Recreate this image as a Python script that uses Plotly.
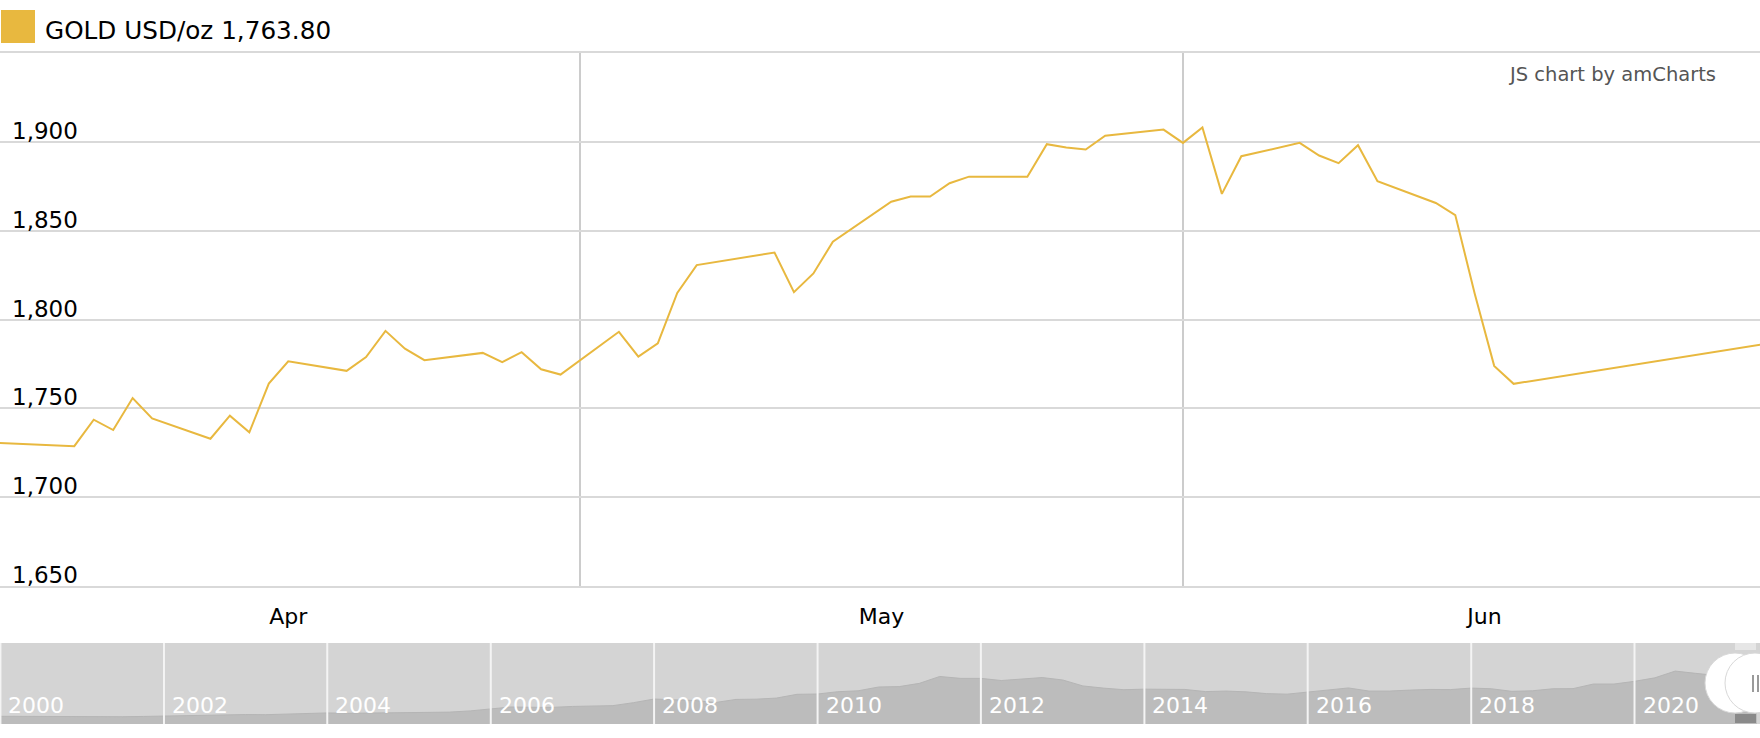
import plotly.graph_objects as go
import pandas as pd

# ---------------- main series (daily gold price, USD/oz) ----------------
dates = [
    "2021-04-01", "2021-04-05", "2021-04-06", "2021-04-07", "2021-04-08", "2021-04-09",
    "2021-04-12", "2021-04-13", "2021-04-14", "2021-04-15", "2021-04-16",
    "2021-04-19", "2021-04-20", "2021-04-21", "2021-04-22", "2021-04-23",
    "2021-04-26", "2021-04-27", "2021-04-28", "2021-04-29", "2021-04-30",
    "2021-05-03", "2021-05-04", "2021-05-05", "2021-05-06", "2021-05-07",
    "2021-05-11", "2021-05-12", "2021-05-13", "2021-05-14",
    "2021-05-17", "2021-05-18", "2021-05-19", "2021-05-20", "2021-05-21",
    "2021-05-24", "2021-05-25", "2021-05-26", "2021-05-27", "2021-05-28",
    "2021-05-31", "2021-06-01", "2021-06-02", "2021-06-03", "2021-06-04",
    "2021-06-07", "2021-06-08", "2021-06-09", "2021-06-10", "2021-06-11",
    "2021-06-14", "2021-06-15", "2021-06-16", "2021-06-17", "2021-06-18",
    "2021-07-01",
]
prices = [
    1730.6, 1728.7, 1743.6, 1737.8, 1755.8, 1744.3,
    1732.9, 1745.9, 1736.5, 1763.9, 1776.5,
    1771.1, 1778.9, 1793.6, 1783.6, 1777.1,
    1781.2, 1776.0, 1781.6, 1772.0, 1769.0,
    1793.1, 1779.1, 1786.6, 1815.0, 1830.6,
    1837.7, 1815.4, 1825.9, 1843.8,
    1866.3, 1869.2, 1869.2, 1876.7, 1880.4,
    1880.3, 1898.7, 1896.8, 1895.7, 1903.4,
    1906.9, 1899.4, 1908.1, 1870.7, 1891.9,
    1899.4, 1892.3, 1888.0, 1898.1, 1877.8,
    1865.6, 1858.8, 1814.5, 1773.9, 1763.8,
    1786.4,
]
y_ticks = [1650, 1700, 1750, 1800, 1850, 1900]
view_start, view_end = "2021-04-01 04:20", "2021-06-30 16:00"
last_in_view = 1763.80

# ---------------- navigator (long-term history, quarterly estimates) ----------------
nav_prices = [
    285, 280, 275, 270, 265, 265, 270, 280, 295, 315, 315, 320,
    350, 345, 365, 390, 410, 395, 405, 435, 425, 430, 440, 485,
    555, 630, 620, 615, 650, 670, 680, 790, 925, 895, 870, 795,
    910, 920, 960, 1100, 1110, 1195, 1230, 1370, 1385, 1505, 1760, 1690,
    1690, 1610, 1655, 1720, 1630, 1410, 1330, 1270, 1290, 1290, 1280, 1200,
    1220, 1190, 1125, 1105, 1180, 1260, 1335, 1220, 1220, 1255, 1280, 1275,
    1330, 1305, 1210, 1230, 1305, 1310, 1480, 1480, 1580, 1710, 1960, 1875,
    1795, 1815, 1800,
]
nav_dates = pd.date_range("2000-01-01", periods=len(nav_prices), freq="3MS")
nav_years = ["2000", "2002", "2004", "2006", "2008", "2010", "2012", "2014", "2016", "2018", "2020"]

W, H = 1760, 738
FONT = "DejaVu Sans"
GOLD = "#E8B83F"

def px_x(p):
    return p / W

def px_y(p):
    return 1 - p / H

main_top, main_bot = px_y(53), px_y(586)
nav_top, nav_bot = px_y(643), px_y(724)

fig = go.Figure()
fig.add_trace(go.Scatter(x=dates, y=prices, mode="lines",
                         line=dict(color=GOLD, width=2), xaxis="x", yaxis="y",
                         hoverinfo="skip", showlegend=False))
fig.add_trace(go.Scatter(x=nav_dates, y=nav_prices, mode="lines", fill="tozeroy",
                         fillcolor="#bcbcbc", line=dict(color="#b5b5b5", width=1),
                         xaxis="x2", yaxis="y2", hoverinfo="skip", showlegend=False))

shapes = [
    dict(type="rect", xref="x2 domain", yref="y2 domain", x0=0, x1=1, y0=0, y1=1,
         fillcolor="#d4d4d4", line=dict(width=0), layer="below"),
]
for yr in nav_years:
    shapes.append(dict(type="line", xref="x2", yref="y2 domain", x0=f"{yr}-01-01", x1=f"{yr}-01-01",
                       y0=0, y1=1, line=dict(color="#f4f4f4", width=2), layer="above"))
# legend swatch
shapes.append(dict(type="rect", xref="paper", yref="paper", x0=px_x(1), x1=px_x(35),
                   y0=px_y(43), y1=px_y(10), fillcolor=GOLD, line=dict(width=0)))
# scrollbar handle pieces
shapes += [
    dict(type="rect", xref="paper", yref="paper", x0=px_x(1735), x1=px_x(1756),
         y0=px_y(650), y1=px_y(643), fillcolor="#e6e6e6", line=dict(width=0)),
    dict(type="rect", xref="paper", yref="paper", x0=px_x(1735), x1=px_x(1756),
         y0=px_y(723), y1=px_y(714), fillcolor="#8a8a8a", line=dict(width=0)),
    dict(type="circle", xref="paper", yref="paper", x0=px_x(1705), x1=px_x(1765),
         y0=px_y(713), y1=px_y(653), fillcolor="#ffffff", line=dict(color="#d8d8d8", width=1)),
    dict(type="circle", xref="paper", yref="paper", x0=px_x(1725), x1=px_x(1785),
         y0=px_y(713), y1=px_y(653), fillcolor="#ffffff", line=dict(color="#d8d8d8", width=1)),
    dict(type="line", xref="paper", yref="paper", x0=px_x(1753), x1=px_x(1753),
         y0=px_y(692), y1=px_y(675), line=dict(color="#9a9a9a", width=2)),
    dict(type="line", xref="paper", yref="paper", x0=px_x(1758), x1=px_x(1758),
         y0=px_y(692), y1=px_y(675), line=dict(color="#9a9a9a", width=2)),
]

annotations = [
    dict(text=f"GOLD USD/oz {last_in_view:,.2f}", xref="paper", yref="paper",
         x=px_x(43), y=px_y(30), xanchor="left", yanchor="middle", showarrow=False,
         font=dict(family=FONT, size=24.7, color="#000000")),
    dict(text="JS chart by amCharts", xref="paper", yref="paper",
         x=px_x(1718), y=px_y(74), xanchor="right", yanchor="middle", showarrow=False,
         font=dict(family=FONT, size=19.5, color="#555555")),
]
# y-axis value labels sitting on top of their gridlines
for v in y_ticks:
    annotations.append(dict(text=f"{v:,}", xref="paper", yref="y", x=px_x(10), y=v,
                            xanchor="left", yanchor="bottom", yshift=-4, showarrow=False,
                            font=dict(family=FONT, size=23, color="#000000")))
# navigator year labels
for yr in nav_years:
    annotations.append(dict(text=yr, xref="x2", yref="y2 domain", x=f"{yr}-01-01", y=0,
                            xanchor="left", yanchor="bottom", xshift=6, yshift=4, showarrow=False,
                            font=dict(family=FONT, size=22, color="#ffffff")))

fig.update_layout(
    width=W, height=H,
    margin=dict(l=0, r=0, t=0, b=0, pad=0),
    paper_bgcolor="#ffffff", plot_bgcolor="#ffffff",
    font=dict(family=FONT, size=22, color="#000000"),
    showlegend=False,
    hovermode=False,
    shapes=shapes,
    annotations=annotations,
    xaxis=dict(
        domain=[0, 1], anchor="y", type="date", range=[view_start, view_end],
        tickmode="linear", tick0="2021-04-01", dtick="M1", ticklabelmode="period",
        tickformat="%b", ticks="", ticklabelstandoff=10,
        showgrid=True, gridcolor="#cccccc", gridwidth=2, zeroline=False,
        showline=True, mirror=True, linecolor="#d9d9d9", linewidth=2,
        tickfont=dict(family=FONT, size=22, color="#000000"), fixedrange=True,
    ),
    yaxis=dict(
        domain=[main_bot, main_top], anchor="x", range=[1650, 1950],
        tickmode="array", tickvals=y_ticks, showticklabels=False, ticks="",
        showgrid=True, gridcolor="#d9d9d9", gridwidth=2, zeroline=False, showline=False,
        fixedrange=True,
    ),
    xaxis2=dict(
        domain=[0, 1], anchor="y2", type="date", range=["1999-12-30", "2021-07-15"],
        showticklabels=False, ticks="",
        showgrid=False, zeroline=False, showline=False, fixedrange=True,
    ),
    yaxis2=dict(
        domain=[nav_bot, nav_top], anchor="x2", range=[0, 3000],
        showgrid=False, zeroline=False, showticklabels=False, ticks="", fixedrange=True,
    ),
)

fig.write_html("out.html", config={"displayModeBar": False},
               post_script="document.body.style.margin='0';document.body.style.overflow='hidden';")
